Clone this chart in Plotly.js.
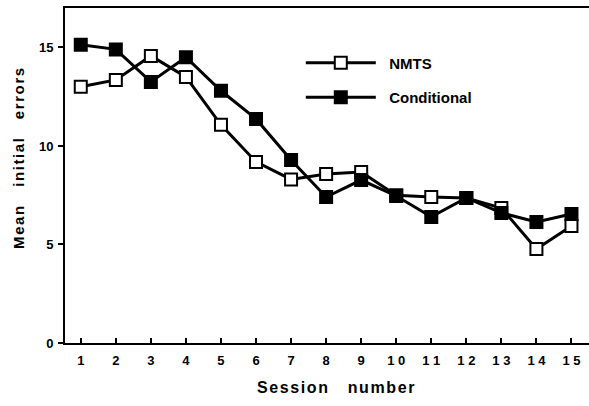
<!DOCTYPE html>
<html>
<head>
<meta charset="utf-8">
<script src="https://cdn.plot.ly/plotly-3.0.1.min.js"></script>
<style>
html,body{margin:0;padding:0;background:#fff;}
#chart{width:589px;height:406px;}
.annotation-text{letter-spacing:1.6px;}
</style>
</head>
<body>
<div id="chart"></div>
<script>
const sessions = [1,2,3,4,5,6,7,8,9,10,11,12,13,14,15];
const tickLabels = ['1','2','3','4','5','6','7','8','9','1 0','1 1','1 2','1 3','1 4','1 5'];
const nmts = [13.0,13.35,14.57,13.5,11.07,9.19,8.3,8.58,8.68,7.5,7.41,7.36,6.85,4.77,5.94];
const conditional = [15.13,14.9,13.25,14.5,12.8,11.37,9.29,7.41,8.27,7.46,6.4,7.36,6.6,6.14,6.55];

const font = {family: 'Arial, "Liberation Sans", sans-serif', color: '#000', weight: 'bold'};

const traces = [
  {x: sessions, y: nmts, name: '&nbsp;&nbsp;NMTS', legendgroup: 'a', type: 'scatter', mode: 'lines+markers',
   line: {color: '#000', width: 3},
   marker: {symbol: 'square', size: 12, color: '#fff', line: {color: '#000', width: 2}}},
  {x: sessions, y: conditional, name: '&nbsp;&nbsp;Conditional', legendgroup: 'b', type: 'scatter', mode: 'lines+markers',
   line: {color: '#000', width: 3},
   marker: {symbol: 'square', size: 12, color: '#000', line: {color: '#000', width: 2}}}
];

const layout = {
  width: 589, height: 406,
  margin: {l: 65, r: 0, t: 8, b: 63},
  paper_bgcolor: '#fff', plot_bgcolor: '#fff',
  font: Object.assign({size: 12}, font),
  showlegend: true,
  legend: {x: 0.45, y: 0.885, xanchor: 'left', yanchor: 'top', itemwidth: 70,
           font: Object.assign({size: 15}, font), bgcolor: 'rgba(0,0,0,0)', tracegroupgap: 12},
  xaxis: {range: [0.55, 15.5], tickvals: sessions, ticktext: tickLabels,
          ticks: 'inside', ticklen: 5, tickwidth: 2, tickcolor: '#000',
          showline: true, linewidth: 2, linecolor: '#000', mirror: true,
          showgrid: false, zeroline: false, ticklabelstandoff: 4,
          tickfont: Object.assign({size: 13}, font)},
  yaxis: {range: [0, 17], tickvals: [0,5,10,15],
          ticks: 'outside', ticklen: 5, tickwidth: 2, tickcolor: '#000',
          showline: true, linewidth: 2, linecolor: '#000',
          showgrid: false, zeroline: false, ticklabelstandoff: 2,
          tickfont: Object.assign({size: 13}, font)},
  annotations: [
    {text: 'Session &nbsp;&nbsp;number', xref: 'paper', yref: 'paper', x: 0.519, y: -0.134,
     xanchor: 'center', yanchor: 'middle', showarrow: false, font: Object.assign({size: 16}, font)},
    {text: 'Mean &nbsp;&nbsp;initial &nbsp;&nbsp;errors', xref: 'paper', yref: 'paper', x: -0.09, y: 0.555,
     xanchor: 'center', yanchor: 'middle', textangle: -90, showarrow: false, font: Object.assign({size: 15}, font)}
  ]
};

Plotly.newPlot('chart', traces, layout, {displayModeBar: false, staticPlot: true});
</script>
</body>
</html>
